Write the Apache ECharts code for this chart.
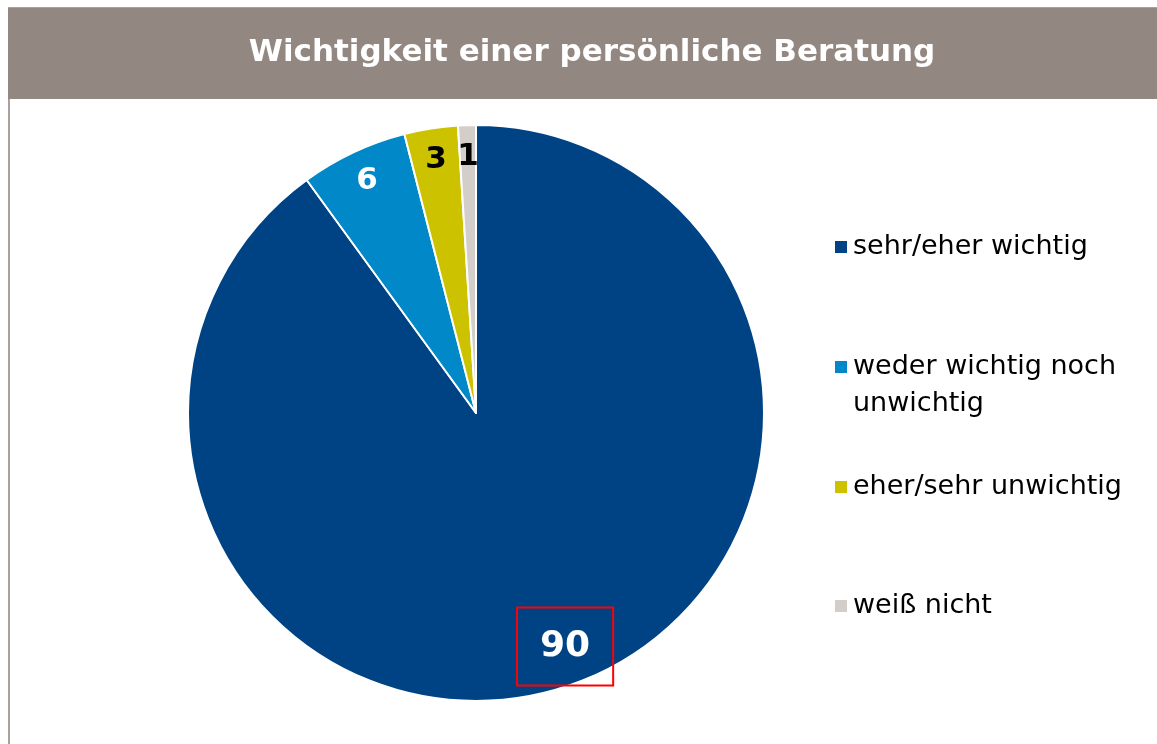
<!DOCTYPE html>
<html>
<head>
<meta charset="utf-8">
<title>Wichtigkeit einer persönliche Beratung</title>
<script src="https://cdn.jsdelivr.net/npm/echarts@6/dist/echarts.min.js"></script>
<style>
  html, body { margin: 0; padding: 0; background: #fff; }
  #chart { width: 1157px; height: 744px; }
</style>
</head>
<body>
<div id="chart"></div>
<script>
// Daten
var titleText = 'Wichtigkeit einer persönliche Beratung'
var categories = ['sehr/eher wichtig', 'weder wichtig noch unwichtig', 'eher/sehr unwichtig', 'weiß nicht']
var values = [90, 6, 3, 1]

// Farben
var sliceColors = ['#004384', '#0088C8', '#CCC200', '#D4CECB']
var labelColors = ['#ffffff', '#ffffff', '#000000', '#000000']
var fontFamily = '"DejaVu Sans", Arial, sans-serif'

var chart = echarts.init(document.getElementById('chart'))

var pieData = categories.map(function (name, i) {
  return { name: name, value: values[i], itemStyle: { color: sliceColors[i] } }
})

// zweite, unsichtbare Ringserie nur fuer die Beschriftung (weiter aussen)
var labelData = categories.map(function (name, i) {
  var label = {
    color: labelColors[i],
    fontSize: 31,
    fontWeight: 'bold',
    fontFamily: fontFamily
  }
  if (i === 0) {
    label.fontSize = 36
    label.lineHeight = 36
    label.borderColor = '#FF0000'
    label.borderWidth = 2
    label.padding = [21, 23]
    label.offset = [10, -10]
  }
  return { name: name, value: values[i], label: label }
})

// Legende: je Eintrag eine eigene Legende (ungleichmaessige Abstaende im Original)
var legendTops = [228.5, 311.5, 468.5, 587.5]
var legends = categories.map(function (name, i) {
  return {
    left: 833,
    top: legendTops[i],
    padding: 0,
    icon: 'rect',
    itemWidth: 14,
    itemHeight: 14,
    selectedMode: false,
    data: [name],
    formatter: function (n) {
      // leere erste Zeile, damit das Symbol auf Hoehe der ersten Textzeile steht
      return n === 'weder wichtig noch unwichtig' ? ' \nweder wichtig noch\nunwichtig' : n
    },
    textStyle: {
      fontSize: 27,
      lineHeight: 37,
      color: '#000',
      fontFamily: fontFamily
    }
  }
})

chart.setOption({
  animation: false,
  graphic: [
    {
      type: 'rect',
      z: -10,
      shape: { x: 9, y: 8, width: 1160, height: 760 },
      style: { fill: '#ffffff', stroke: '#ABA19C', lineWidth: 2 }
    },
    {
      type: 'rect',
      z: -9,
      shape: { x: 8, y: 8, width: 1149, height: 91 },
      style: { fill: '#938781' }
    },
    {
      type: 'text',
      z: 10,
      x: 592,
      y: 53,
      style: {
        text: titleText,
        fill: '#ffffff',
        font: 'bold 31px ' + fontFamily,
        textAlign: 'center',
        textVerticalAlign: 'middle'
      }
    }
  ],
  legend: legends,
  series: [
    {
      type: 'pie',
      center: [476, 413],
      radius: 288,
      startAngle: 90,
      clockwise: true,
      silent: true,
      label: { show: false },
      labelLine: { show: false },
      itemStyle: { borderColor: '#ffffff', borderWidth: 2 },
      emphasis: { disabled: true },
      data: pieData
    },
    {
      type: 'pie',
      center: [476, 413],
      radius: [218, 288],
      startAngle: 90,
      clockwise: true,
      silent: true,
      legendHoverLink: false,
      itemStyle: { color: 'transparent', borderWidth: 0 },
      label: { show: true, position: 'inside', formatter: '{c}' },
      labelLine: { show: false },
      emphasis: { disabled: true },
      data: labelData
    }
  ]
})
</script>
</body>
</html>
